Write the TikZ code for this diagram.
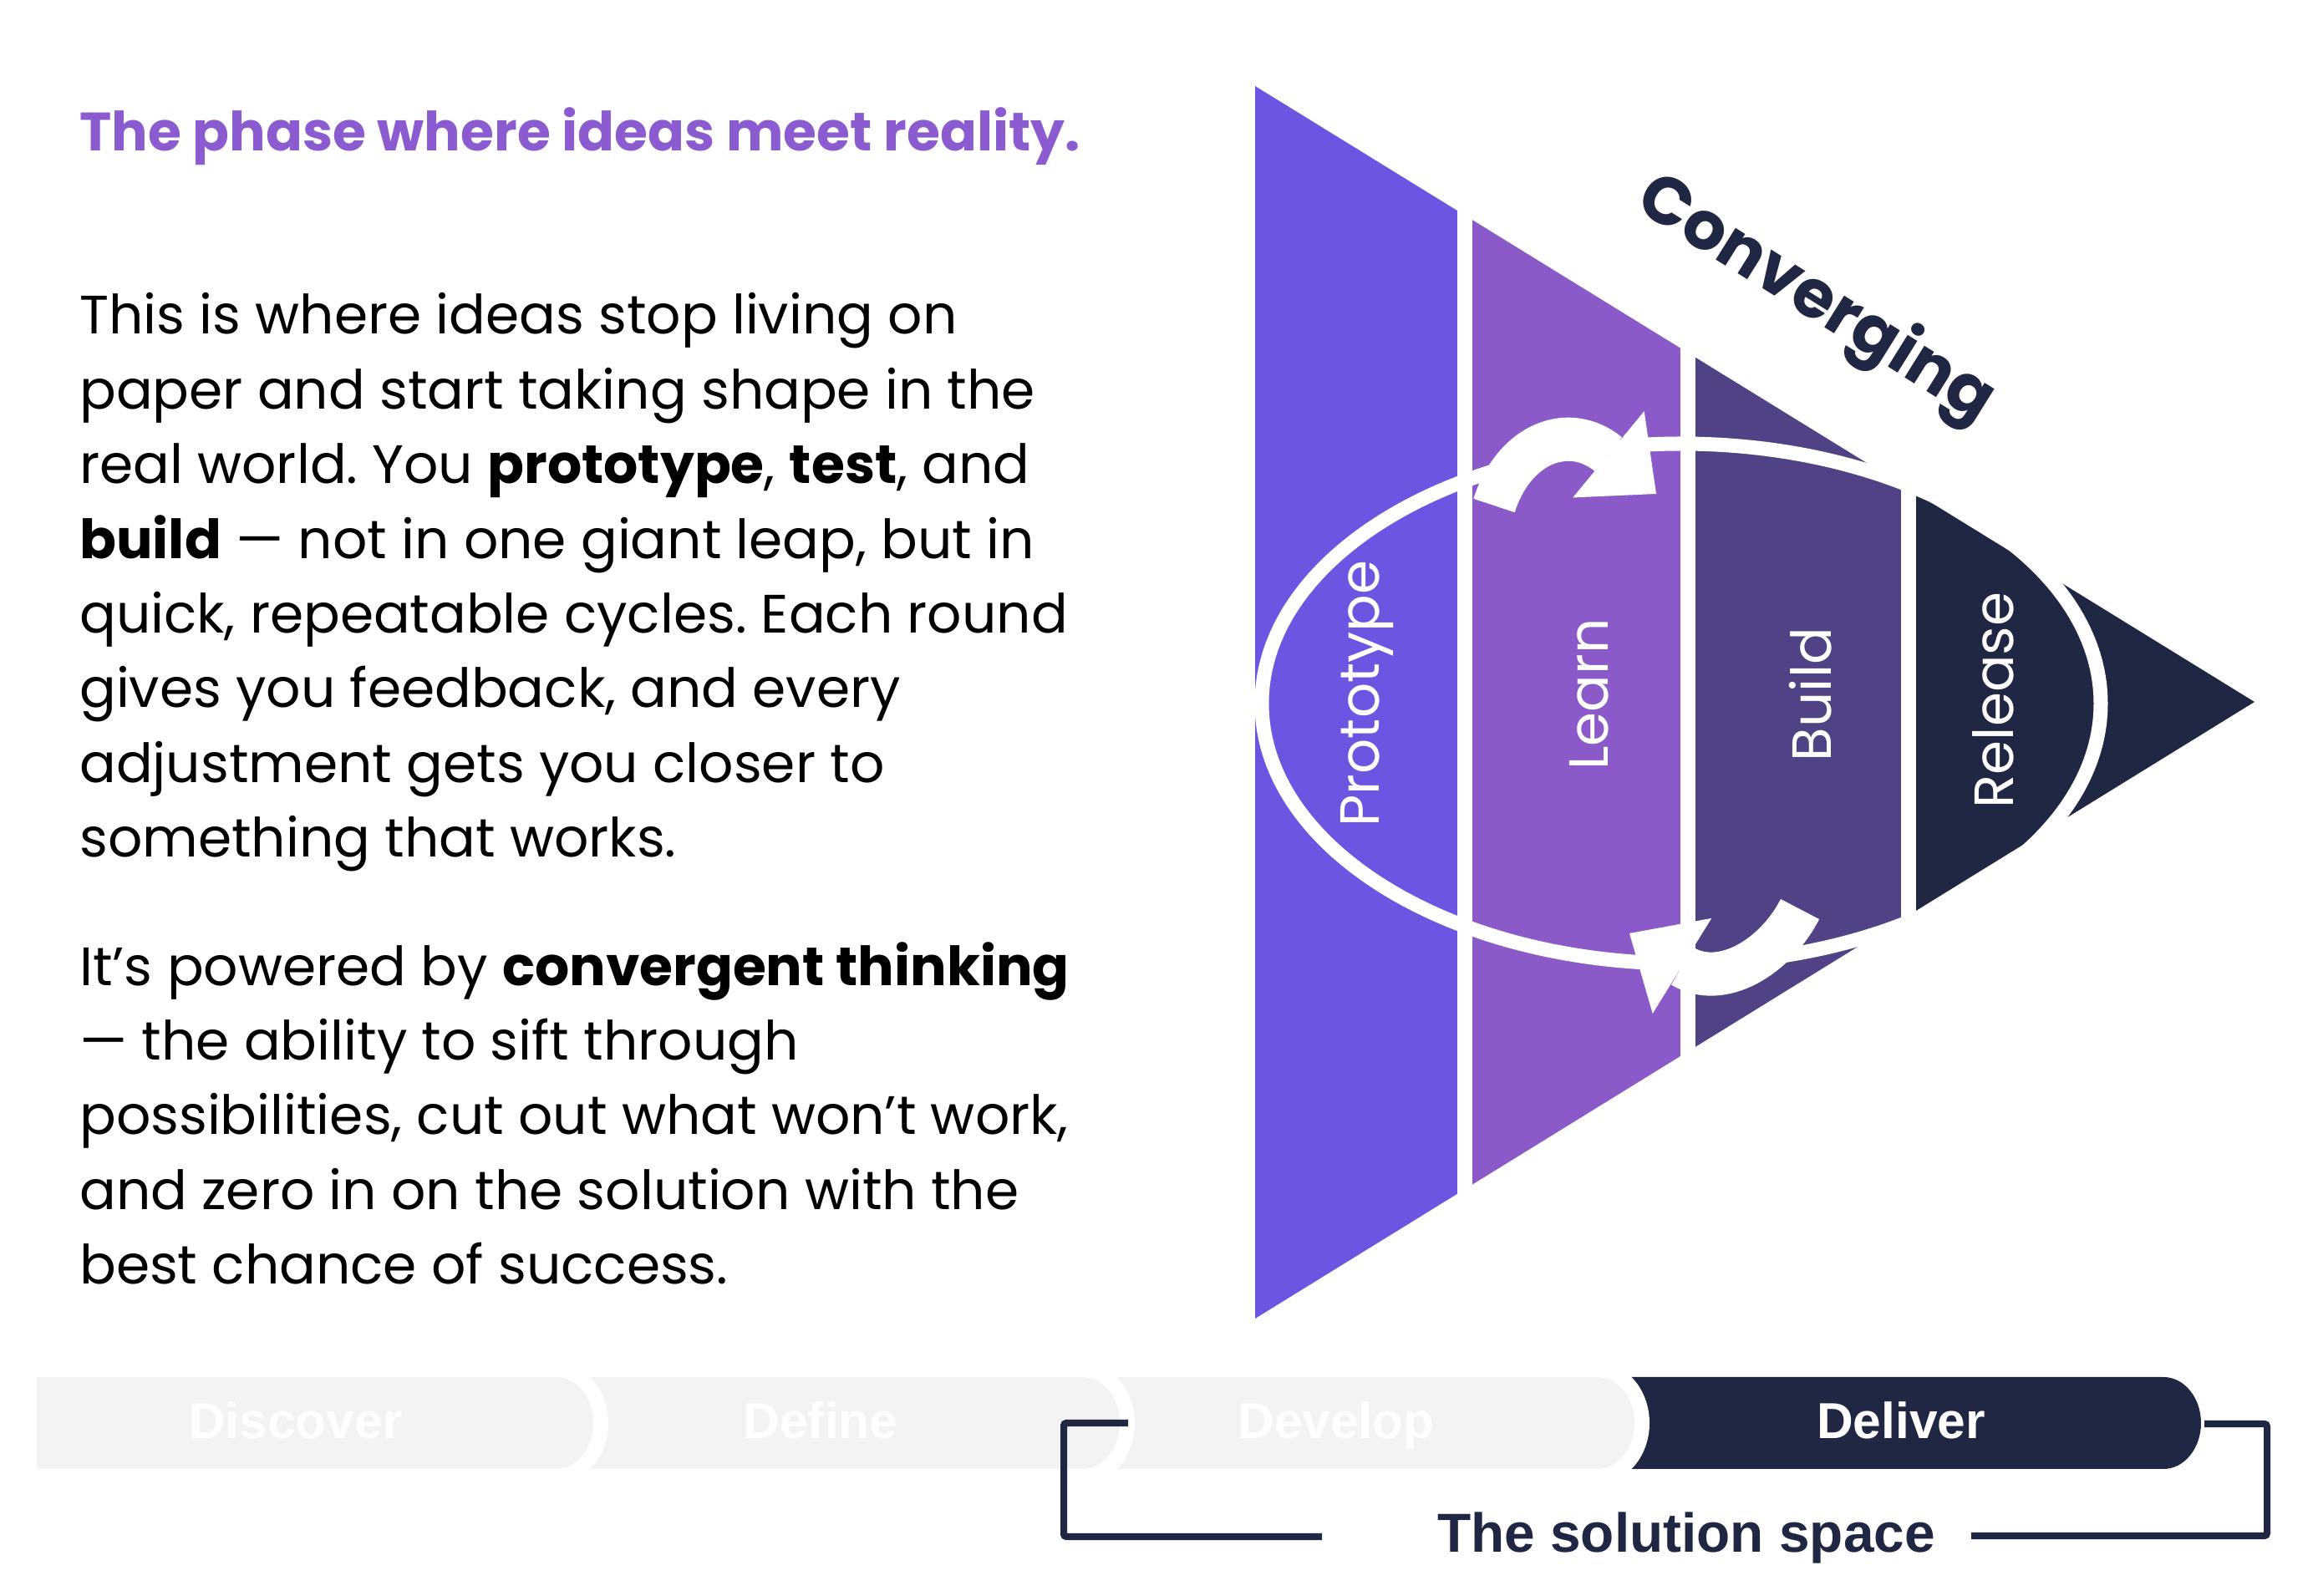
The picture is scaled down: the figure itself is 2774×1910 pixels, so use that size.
\documentclass[tikz,border=0pt]{standalone}
\usepackage{fontspec}
\setmainfont{Poppins}
\newfontfamily\barfont{Liberation Sans}
\usetikzlibrary{arrows.meta}
\frenchspacing
\definecolor{protoblue}{HTML}{6C55E0}
\definecolor{learnpurple}{HTML}{8A5BC8}
\definecolor{buildpurple}{HTML}{514286}
\definecolor{navy}{HTML}{1F2742}
\definecolor{barfill}{HTML}{F2F3F5}
\definecolor{headpurple}{HTML}{8B5CD0}
\tikzset{every picture/.style={line width=0.75pt}}
\tikzset{
    bodytext/.style={anchor=base west, align=left, inner sep=0pt, font=\fontsize{18.4}{25.45}\selectfont},
    band label/.style={white, rotate=90, inner sep=0pt, font=\fontsize{18.8}{22}\selectfont},
    loop arrow/.style={white, line width=0.52cm, -{Triangle[length=0.74cm, width=1.34cm, line width=0pt]}},
    bar label/.style={white, anchor=base, inner sep=0pt, font=\barfont\bfseries\fontsize{17.2}{20}\selectfont},
    bracket/.style={navy, line width=0.08cm, rounded corners=0.03cm},
}

\begin{document}
\begin{tikzpicture}[x=0.01cm, y=-0.01cm]
    \useasboundingbox (0,0) rectangle (2774,1910);

    % text column (base anchor sits on the last line)
    \node[bodytext, headpurple, font=\bfseries\fontsize{18.4}{25.45}\selectfont] (heading) at (94,181) {The phase where ideas meet reality.};
    \node[bodytext] (para1) at (94,1026) {This is where ideas stop living on\\
        paper and start taking shape in the\\
        real world. You \textbf{prototype}, \textbf{test}, and\\
        \textbf{build} — not in one giant leap, but in\\
        quick, repeatable cycles. Each round\\
        gives you feedback, and every\\
        adjustment gets you closer to\\
        something that works.};
    \node[bodytext] (para2) at (94,1537) {It’s powered by \textbf{convergent thinking}\\
        — the ability to sift through\\
        possibilities, cut out what won’t work,\\
        and zero in on the solution with the\\
        best chance of success.};

    % converging triangle
    \coordinate (tritop) at (1502,103);
    \coordinate (tribot) at (1502,1578);
    \coordinate (apex) at (2698,840);
    \begin{scope}
        \clip (tritop) -- (apex) -- (tribot) -- cycle;
        \fill[protoblue] (1502,0) rectangle (1744,1910);
        \fill[learnpurple] (1762,0) rectangle (2011,1910);
        \fill[buildpurple] (2029,0) rectangle (2275,1910);
        \fill[navy] (2293,0) rectangle (2774,1910);
    \end{scope}
    \draw[white, line width=0.17cm] (2012,842) ellipse [x radius=502, y radius=311];
    \draw[loop arrow] (1788,605) .. controls (1812,530) and (1878,505) .. (1982,591);
    \draw[loop arrow] (2154,1088) .. controls (2125,1145) and (2060,1185) .. (1950,1117);

    \node[band label] (prototype) at (1636,830) {Prototype};
    \node[band label] (learn) at (1902,831) {Learn};
    \node[band label] (build) at (2167,831) {Build};
    \node[band label] (release) at (2385,838) {Release};
    \node[navy, rotate=-32, font=\bfseries\fontsize{22.8}{26}\selectfont] (converging) at (2172,360) {Converging};

    % phase bar, drawn right to left so each end overlaps the next
    \foreach \L/\R/\col in {1890/2589/navy, 1270/1911/barfill, 640/1295/barfill, 44/665/barfill} {
        \fill[white] (\R,1703) ellipse [x radius=63, y radius=73];
        \fill[\col] (\L,1648) -- (\R,1648) arc[start angle=-90, end angle=90, x radius=45, y radius=55] -- (\L,1758) -- cycle;
    }
    \node[bar label] (discover) at (354,1722) {Discover};
    \node[bar label] (define) at (982,1722) {Define};
    \node[bar label] (develop) at (1599,1722) {Develop};
    \node[bar label] (deliver) at (2275,1722) {Deliver};

    % solution space bracket
    \node[navy, anchor=base, inner sep=0pt, font=\barfont\bfseries\fontsize{18.7}{22}\selectfont] (solution) at (2018,1857) {The solution space};
    \coordinate (lefttop) at (1350,1703);
    \coordinate (leftend) at (1582,1839);
    \coordinate (righttop) at (2638,1704);
    \coordinate (rightend) at (2359,1838);
    \draw[bracket] (lefttop) -- (1273,1703) -- (1273,1839) -- (leftend);
    \draw[bracket] (righttop) -- (2713,1704) -- (2713,1838) -- (rightend);
\end{tikzpicture}
\end{document}
